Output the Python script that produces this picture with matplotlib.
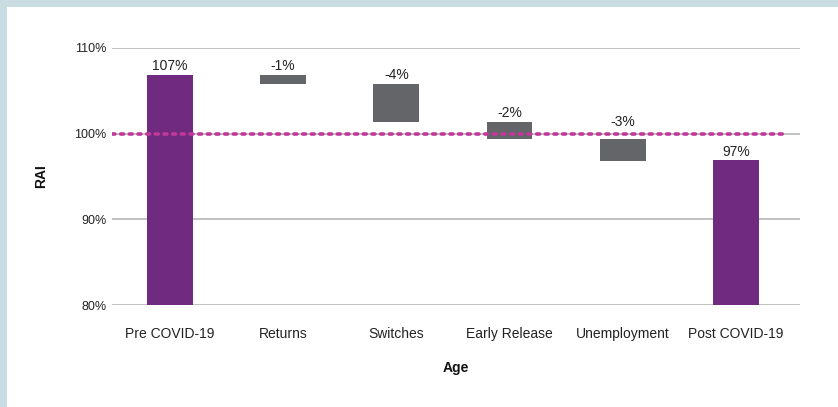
import matplotlib
matplotlib.use("Agg")
import matplotlib.pyplot as plt
from matplotlib.patches import Rectangle

# data
categories = ["Pre COVID-19", "Returns", "Switches", "Early Release", "Unemployment", "Post COVID-19"]
start_value = 106.9
changes = [-1.1, -4.4, -2.0, -2.6]
end_value = 96.9
labels = ["107%", "-1%", "-4%", "-2%", "-3%", "97%"]
yticks = [80, 90, 100, 110]

purple = "#702a80"
grey = "#636569"
magenta = "#c0399a"

plt.rcParams["font.family"] = ["Liberation Sans", "DejaVu Sans"]

fig = plt.figure(figsize=(8.38, 4.07), dpi=100)
fig.patch.set_facecolor("#c9dce2")
fig.patches.append(Rectangle((7 / 838, 0), 1, 1 - 7 / 407, transform=fig.transFigure,
                             facecolor="white", edgecolor="none", zorder=-1))
ax = fig.add_axes([112 / 838, 102 / 407, 688 / 838, 257 / 407])
ax.set_zorder(2)
ax.set_facecolor("none")

# waterfall bars
bottoms = []
heights = []
colors = []
bottoms.append(80)
heights.append(start_value - 80)
colors.append(purple)
level = start_value
for c in changes:
    bottoms.append(level + c)
    heights.append(-c)
    colors.append(grey)
    level += c
bottoms.append(80)
heights.append(end_value - 80)
colors.append(purple)

x = list(range(len(categories)))
ax.bar(x, heights, bottom=bottoms, width=0.405, color=colors, zorder=3)

for i in range(len(categories)):
    top = bottoms[i] + heights[i]
    # keep the label clear of the 100% reference line
    if top < 100 and top > 98.5:
        top = 100.3
    ax.text(i, top + 0.2, labels[i], ha="center", va="bottom", fontsize=10, color="#222222", zorder=6)

ax.set_xlim(-0.51, 5.565)
ax.set_ylim(80, 110)
ax.set_yticks(yticks)
ax.set_yticklabels([f"{t}%" for t in yticks])
ax.set_xticks(x)
ax.set_xticklabels(categories)
ax.yaxis.grid(True, color="#b0b0b0", linewidth=1.1, zorder=1)
ax.set_axisbelow(True)
ax.axhline(100, xmin=0, xmax=0.978, color=magenta, linestyle=(0, (0.8, 1.6)),
           linewidth=2.6, dash_capstyle="round", zorder=5)

for s in ax.spines.values():
    s.set_visible(False)
ax.tick_params(axis="both", length=0, colors="#222222")
ax.tick_params(axis="y", labelsize=9, pad=4)
ax.tick_params(axis="x", labelsize=10, pad=16)

ax.set_ylabel("RAI", fontsize=10, fontweight="bold", labelpad=19, color="#111111")
ax.set_xlabel("Age", fontsize=10, fontweight="bold", labelpad=14, color="#111111")

fig.savefig("out.png", dpi=100, facecolor=fig.get_facecolor())
